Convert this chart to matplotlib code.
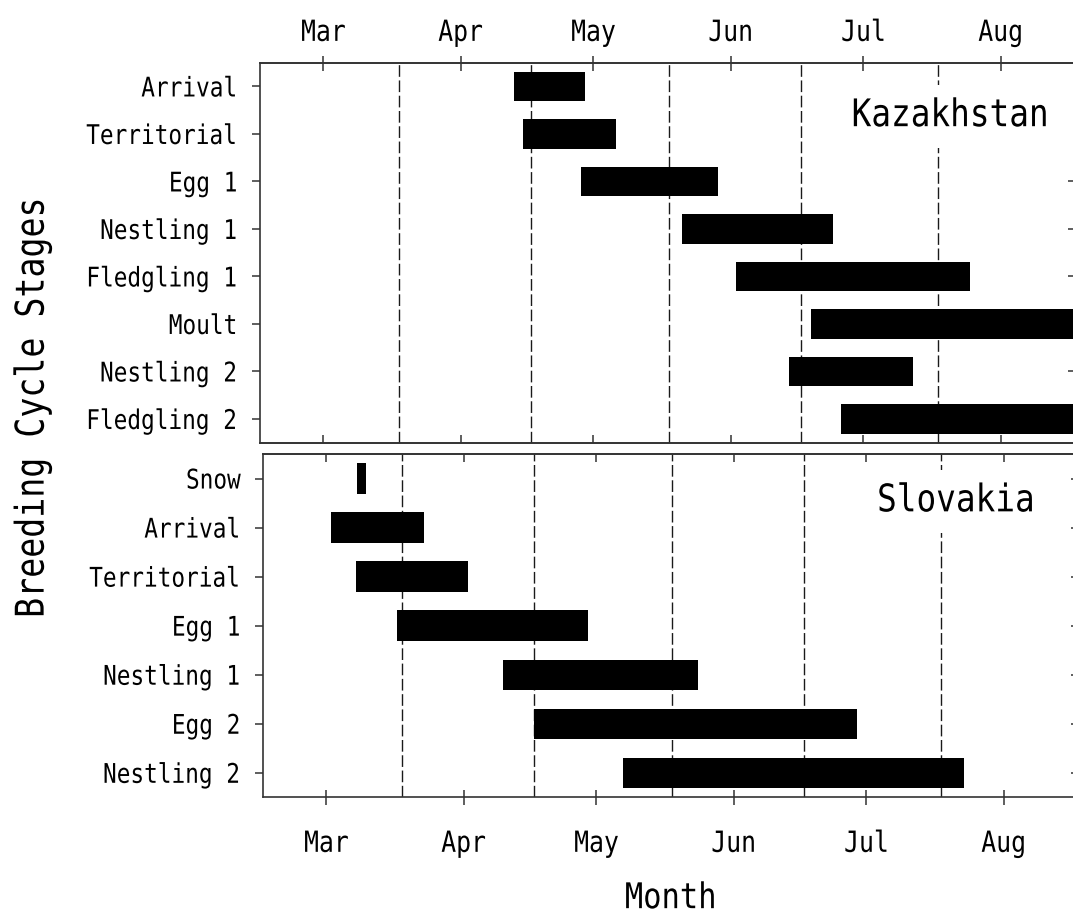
import matplotlib
matplotlib.use("Agg")
import matplotlib.pyplot as plt
from matplotlib.patheffects import AbstractPathEffect
from matplotlib.transforms import Affine2D

plt.rcParams["font.family"] = "DejaVu Sans Mono"
plt.rcParams["lines.scale_dashes"] = False

# x axis unit: days counted from 1 March
month_names = ["Mar", "Apr", "May", "Jun", "Jul", "Aug"]
month_pos = [0, 31, 61, 92, 122, 153]
mid_month = [17.0, 47.0, 78.0, 108.0, 138.8]
x_range = (-14.3, 170.0)

# Kazakhstan breeding cycle (start / end day)
stages_kz = ["Arrival", "Territorial", "Egg 1", "Nestling 1",
             "Fledgling 1", "Moult", "Nestling 2", "Fledgling 2"]
start_kz = [43.1, 45.0, 58.1, 81.0, 93.1, 110.1, 105.1, 117.0]
end_kz = [59.2, 66.2, 89.2, 115.2, 146.0, 175.0, 133.1, 175.0]

# Slovakia breeding cycle (start / end day)
stages_sk = ["Snow", "Arrival", "Territorial", "Egg 1",
             "Nestling 1", "Egg 2", "Nestling 2"]
start_sk = [6.9, 1.0, 6.8, 15.9, 39.8, 46.8, 66.9]
end_sk = [9.0, 22.0, 32.0, 59.0, 83.9, 119.9, 144.0]

EDGE = "#333333"


class Narrow(AbstractPathEffect):
    """Squeeze glyphs along the writing direction (condensed look)."""

    def __init__(self, sx=0.85, anchor="center"):
        super().__init__()
        self.sx = sx
        self.anchor = anchor

    def draw_path(self, renderer, gc, tpath, affine, rgbFace=None):
        ext = tpath.get_extents()
        x0 = {"left": ext.x0, "center": (ext.x0 + ext.x1) / 2,
              "right": ext.x1}[self.anchor]
        squeeze = Affine2D().translate(-x0, 0).scale(self.sx, 1).translate(x0, 0)
        renderer.draw_path(gc, tpath, squeeze + affine, rgbFace)


def panel(ax, stages, start, end, name, labels_on_top):
    n = len(stages)
    widths = [e - s for s, e in zip(start, end)]
    for x in mid_month:
        ax.axvline(x, color="#1a1a1a", lw=1.0, dashes=(8.4, 2.6), zorder=1)
    ax.barh(range(n), widths, left=start, height=0.62, color="black", zorder=3)
    ax.set_xlim(*x_range)
    ax.set_ylim(n - 0.5, -0.5)

    for sp in ax.spines.values():
        sp.set_color(EDGE)
        sp.set_linewidth(1.2)
    ax.spines["right"].set_visible(False)

    ax.set_yticks(range(n), stages)
    ax.tick_params(axis="y", direction="out", length=5.8, width=1.1,
                   color=EDGE, labelsize=19.5, pad=10)
    for lbl in ax.get_yticklabels():
        lbl.set_path_effects([Narrow(0.84, "right")])

    right = ax.secondary_yaxis("right")
    right.set_yticks(range(n))
    right.tick_params(direction="in", length=5.8, width=1.1, color=EDGE,
                      labelright=False)

    # one side carries labels with crossing ticks, the other plain inner ticks
    side = "bottom" if labels_on_top else "top"
    other = ax.secondary_xaxis(side)
    other.set_xticks(month_pos)
    other.tick_params(direction="in", length=5.8, width=1.1, color=EDGE,
                      labelbottom=False, labeltop=False)
    other.spines[side].set_color(EDGE)
    other.spines[side].set_linewidth(1.2)

    if labels_on_top:
        lab = ax.secondary_xaxis("top")
        lab.spines["top"].set_color(EDGE)
        lab.spines["top"].set_linewidth(1.2)
        lab.set_xticks(month_pos, month_names)
        lab.tick_params(direction="inout", length=10.8, width=1.1, color=EDGE,
                        labelsize=21, pad=6)
        ax.tick_params(axis="x", bottom=False, labelbottom=False)
        ticklabels = lab.get_xticklabels()
    else:
        ax.set_xticks(month_pos, month_names)
        ax.tick_params(axis="x", direction="inout", length=10.8, width=1.1,
                       color=EDGE, labelsize=21, pad=18)
        ticklabels = ax.get_xticklabels()
    for lbl in ticklabels:
        lbl.set_path_effects([Narrow(0.85, "center")])

    centre = 0.8456 if labels_on_top else 0.849
    ax.text(centre, 0.833, name, transform=ax.transAxes, ha="center",
            va="baseline", fontsize=27.4, zorder=4,
            bbox=dict(boxstyle="square,pad=0.35", fc="white", ec="none"),
            path_effects=[Narrow(0.86, "center")])


fig = plt.figure(figsize=(10.73, 9.17), dpi=100)
ax_kz = fig.add_axes([0.2423, 0.5172, 0.7605, 0.4144])
ax_sk = fig.add_axes([0.2451, 0.1305, 0.7605, 0.3744])

panel(ax_kz, stages_kz, start_kz, end_kz, "Kazakhstan", True)
panel(ax_sk, stages_sk, start_sk, end_sk, "Slovakia", False)

fig.text(0.0304, 0.556, "Breeding Cycle Stages", rotation=90, ha="center",
         va="center", fontsize=28.5, path_effects=[Narrow(0.84, "center")])
fig.text(0.625, 0.002, "Month", ha="center", va="bottom", fontsize=25.5,
         path_effects=[Narrow(0.86, "center")])

fig.savefig("out.png", dpi=100)
